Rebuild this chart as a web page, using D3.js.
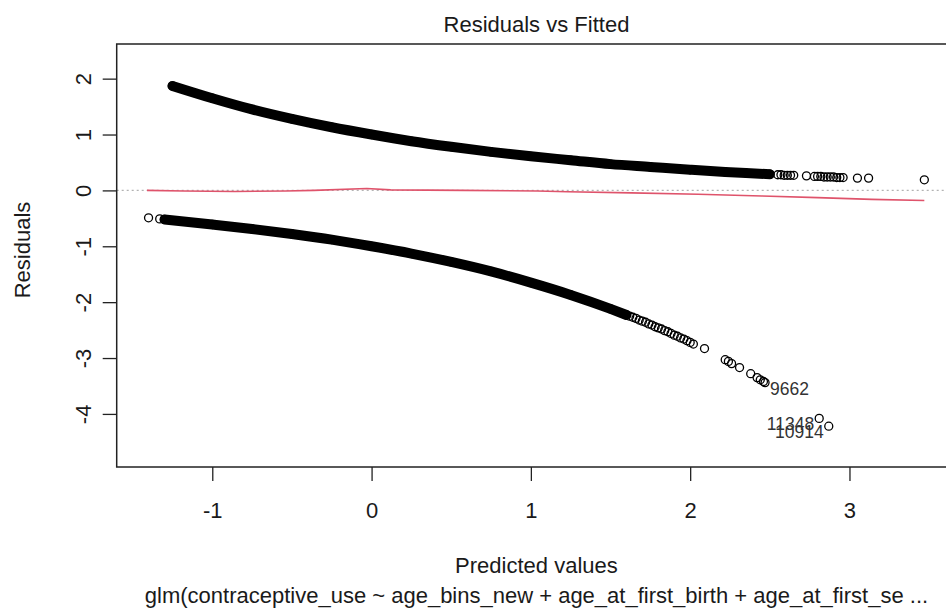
<!DOCTYPE html>
<html>
<head>
<meta charset="utf-8">
<script src="https://cdn.jsdelivr.net/npm/d3@7"></script>
<style>
  html, body { margin: 0; padding: 0; background: #fff; }
  svg { display: block; }
  text { font-family: "Liberation Sans", Arial, sans-serif; fill: #1a1a1a; }
</style>
</head>
<body>
<svg id="chart" width="946" height="608"></svg>
<script>
// ---------- data ----------
const xTicks = [-1, 0, 1, 2, 3];
const yTicks = [-4, -3, -2, -1, 0, 1, 2];

// dense upper band (observations with y = 1)
const upperFit = [-1.25, -1.0, -0.75, -0.5, -0.25, 0, 0.25, 0.5, 0.75, 1.0, 1.25, 1.5, 1.75, 2.0, 2.22, 2.35, 2.5];
const upperRes = [1.87, 1.65, 1.45, 1.28, 1.13, 1.00, 0.88, 0.78, 0.69, 0.61, 0.54, 0.47, 0.42, 0.37, 0.33, 0.31, 0.29];
// sparse upper tail
const upperTailFit = [2.55, 2.57, 2.59, 2.61, 2.63, 2.65, 2.73, 2.78, 2.80, 2.82, 2.84, 2.86, 2.88, 2.90, 2.92, 2.94, 2.96, 3.05, 3.12, 3.47];
const upperTailRes = [0.28, 0.28, 0.27, 0.27, 0.27, 0.27, 0.26, 0.25, 0.25, 0.25, 0.24, 0.24, 0.24, 0.24, 0.23, 0.23, 0.23, 0.22, 0.22, 0.19];

// dense lower band (observations with y = 0)
const lowerFit = [-1.30, -1.0, -0.75, -0.5, -0.25, 0, 0.25, 0.5, 0.75, 1.0, 1.25, 1.5, 1.6];
const lowerRes = [-0.52, -0.61, -0.69, -0.78, -0.88, -1.00, -1.13, -1.28, -1.45, -1.65, -1.87, -2.12, -2.23];
// sparse lower points
const lowerTailFit = [-1.40, -1.33, 1.62, 1.64, 1.66, 1.68, 1.70, 1.72, 1.74, 1.76, 1.78, 1.80, 1.82, 1.84, 1.86, 1.88, 1.90, 1.92, 1.94, 1.96, 1.98, 2.00, 2.02,
                      2.09, 2.22, 2.24, 2.26, 2.31, 2.38, 2.42, 2.44, 2.46, 2.47, 2.81, 2.87];
const lowerTailRes = [-0.49, -0.51, -2.25, -2.27, -2.29, -2.32, -2.34, -2.36, -2.39, -2.41, -2.44, -2.46, -2.48, -2.51, -2.53, -2.56, -2.59, -2.61, -2.64, -2.66, -2.69, -2.72, -2.75,
                      -2.83, -3.03, -3.06, -3.10, -3.17, -3.28, -3.35, -3.39, -3.42, -3.44, -4.08, -4.22];

// labelled observations
const labelIds = ["9662", "11348", "10914"];
const labelFit = [2.47, 2.81, 2.87];
const labelRes = [-3.44, -4.08, -4.22];
const labelPos = [4, 2, 2]; // R text pos: 4 = right, 2 = left

// smoother (red line)
const smoothFit = [-1.41, -1.18, -0.86, -0.54, -0.36, -0.03, 0.12, 0.58, 1.04, 1.23, 1.63, 2.05, 2.45, 2.80, 3.14, 3.47];
const smoothRes = [0.00, -0.01, -0.02, -0.01, 0.00, 0.035, 0.01, 0.00, -0.01, -0.025, -0.045, -0.07, -0.10, -0.13, -0.16, -0.18];

const titleText = "Residuals vs Fitted";
const xLabel = "Predicted values";
const yLabel = "Residuals";
const subCaption = "glm(contraceptive_use ~ age_bins_new + age_at_first_birth + age_at_first_se ...";

// ---------- layout ----------
const svg = d3.select("#chart");
const pLeft = 116.7, pRight = 956.2, pTop = 44, pBottom = 467;
const x = d3.scaleLinear().domain([-1.6, 3.67]).range([pLeft, pRight]);
const y = d3.scaleLinear().domain([-4.95, 2.62]).range([pBottom, pTop]);
const fs = 22;
const fmt = d => String(d); // plain ASCII hyphen-minus, as in R

const zip = (a, b) => a.map((v, i) => [v, b[i]]);

// zero reference line
svg.append("line")
  .attr("x1", pLeft).attr("x2", pRight)
  .attr("y1", y(0)).attr("y2", y(0))
  .attr("stroke", "#b3b3b3").attr("stroke-width", 1.2)
  .attr("stroke-dasharray", "2,3");

// smoother
svg.append("path")
  .datum(zip(smoothFit, smoothRes))
  .attr("fill", "none")
  .attr("stroke", "#DF536B")
  .attr("stroke-width", 1.6)
  .attr("d", d3.line().x(d => x(d[0])).y(d => y(d[1])));

// dense bands
const band = d3.line().x(d => x(d[0])).y(d => y(d[1])).curve(d3.curveMonotoneX);
[zip(upperFit, upperRes), zip(lowerFit, lowerRes)].forEach(pts => {
  svg.append("path")
    .datum(pts)
    .attr("fill", "none")
    .attr("stroke", "#000")
    .attr("stroke-width", 10)
    .attr("stroke-linecap", "round")
    .attr("d", band);
});

// individual points
const allPts = zip(upperFit, upperRes).concat(zip(upperTailFit, upperTailRes), zip(lowerFit, lowerRes), zip(lowerTailFit, lowerTailRes));
svg.append("g").selectAll("circle")
  .data(allPts)
  .join("circle")
  .attr("cx", d => x(d[0]))
  .attr("cy", d => y(d[1]))
  .attr("r", 4)
  .attr("fill", "none")
  .attr("stroke", "#000")
  .attr("stroke-width", 1.3);

// point labels
svg.append("g").selectAll("text")
  .data(labelIds.map((id, i) => ({ id, fx: labelFit[i], r: labelRes[i], pos: labelPos[i] })))
  .join("text")
  .attr("x", d => x(d.fx) + (d.pos === 4 ? 5 : -5))
  .attr("y", d => y(d.r) + 12)
  .attr("text-anchor", d => d.pos === 4 ? "start" : "end")
  .attr("font-size", 17.5)
  .style("fill", "#333")
  .text(d => d.id);

// box
svg.append("rect")
  .attr("x", pLeft).attr("y", pTop)
  .attr("width", pRight - pLeft).attr("height", pBottom - pTop)
  .attr("fill", "none").attr("stroke", "#222").attr("stroke-width", 1.5);

// x axis
const gx = svg.append("g")
  .attr("transform", `translate(0,${pBottom})`)
  .call(d3.axisBottom(x).tickValues(xTicks).tickSize(14).tickSizeOuter(0).tickPadding(21).tickFormat(fmt));
gx.select(".domain").remove();
gx.selectAll(".tick line").attr("stroke", "#222").attr("stroke-width", 1.3);
gx.selectAll(".tick text").attr("font-size", fs).attr("font-family", "Liberation Sans, Arial, sans-serif").style("fill", "#1a1a1a");

// y axis
const gy = svg.append("g")
  .attr("transform", `translate(${pLeft},0)`)
  .call(d3.axisLeft(y).tickValues(yTicks).tickSize(14).tickSizeOuter(0).tickFormat(fmt));
gy.select(".domain").remove();
gy.selectAll(".tick line").attr("stroke", "#222").attr("stroke-width", 1.3);
gy.selectAll(".tick text")
  .attr("x", null).attr("dy", "0.35em")
  .attr("transform", `translate(${83 - pLeft},0) rotate(-90)`)
  .attr("text-anchor", "middle")
  .attr("font-size", fs).attr("font-family", "Liberation Sans, Arial, sans-serif").style("fill", "#1a1a1a");

// titles
svg.append("text").attr("x", (pLeft + pRight) / 2).attr("y", 32)
  .attr("text-anchor", "middle").attr("font-size", fs).text(titleText);
svg.append("text").attr("x", (pLeft + pRight) / 2).attr("y", 573)
  .attr("text-anchor", "middle").attr("font-size", fs).text(xLabel);
svg.append("text").attr("x", (pLeft + pRight) / 2).attr("y", 603)
  .attr("text-anchor", "middle").attr("font-size", fs).text(subCaption);
svg.append("text")
  .attr("transform", `translate(22,250) rotate(-90)`)
  .attr("dy", "0.35em")
  .attr("text-anchor", "middle").attr("font-size", fs).text(yLabel);
</script>
</body>
</html>
